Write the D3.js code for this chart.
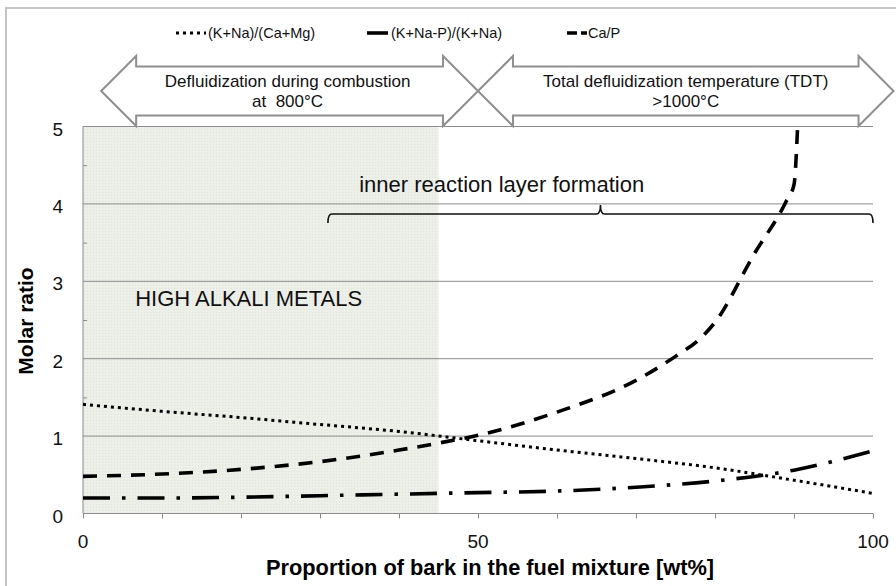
<!DOCTYPE html>
<html>
<head>
<meta charset="utf-8">
<script src="https://cdn.jsdelivr.net/npm/d3@7"></script>
<style>
  body { margin: 0; background: #fff; }
  svg { display: block; font-family: Arial, "Liberation Sans", sans-serif; }
</style>
</head>
<body>
<svg id="chart" width="896" height="586"></svg>
<script>
// Proportion of bark in the fuel mixture [wt%]
const barkShare = [0, 10, 20, 30, 40, 50, 60, 70, 80, 90, 100];
// (K+Na)/(Ca+Mg)
const alkaliToEarth = [1.41, 1.32, 1.24, 1.15, 1.06, 0.94, 0.82, 0.71, 0.59, 0.43, 0.26];
// (K+Na-P)/(K+Na)
const alkaliMinusP = [0.20, 0.20, 0.21, 0.23, 0.25, 0.27, 0.29, 0.34, 0.42, 0.56, 0.81];
// Ca/P (rises steeply past 90 wt%)
const caPShare = [0, 10, 20, 30, 40, 45, 50, 60, 70, 75, 78, 80, 85, 89, 90, 90.5];
const caP = [0.48, 0.51, 0.57, 0.67, 0.82, 0.91, 1.01, 1.31, 1.72, 2.03, 2.25, 2.47, 3.36, 4.03, 4.25, 5.10];

const xTicks = [0, 50, 100];
const xMinorTicks = d3.range(0, 101, 10);
const yTicks = [0, 1, 2, 3, 4, 5];
const yMinorTicks = [0.5, 1.5, 2.5, 3.5, 4.5];

const legendLabels = ["(K+Na)/(Ca+Mg)", "(K+Na-P)/(K+Na)", "Ca/P"];
const highAlkaliRange = [0, 45];
const braceRange = [31, 100];
const arrowSpans = [[2.3, 50], [50, 102.6]];
const arrowLabels = [
  ["Defluidization during combustion", "at  800\u00B0C"],
  ["Total defluidization temperature (TDT)", ">1000\u00B0C"]
];

const svg = d3.select("#chart");
const plot = { left: 83, right: 873, top: 126.5, bottom: 513.5 };

const x = d3.scaleLinear().domain([0, 100]).range([plot.left, plot.right]);
const y = d3.scaleLinear().domain([0, 5]).range([plot.bottom, plot.top]);

const defs = svg.append("defs");
const grain = defs.append("pattern").attr("id", "grain")
  .attr("width", 3).attr("height", 3).attr("patternUnits", "userSpaceOnUse");
grain.append("rect").attr("width", 3).attr("height", 3).attr("fill", "#eceee8");
grain.append("rect").attr("width", 1).attr("height", 1).attr("fill", "#e1e4dc");
grain.append("rect").attr("x", 2).attr("y", 1).attr("width", 1).attr("height", 1).attr("fill", "#f1f2ee");

defs.append("clipPath").attr("id", "plotClip")
  .append("rect")
  .attr("x", plot.left - 3).attr("y", plot.top)
  .attr("width", plot.right - plot.left + 6).attr("height", plot.bottom - plot.top);

// chart frame
svg.append("rect").attr("x", 6).attr("y", 8).attr("width", 900).attr("height", 600)
  .attr("fill", "none").attr("stroke", "#c4c4c4").attr("stroke-width", 2);

// high alkali region
svg.append("rect")
  .attr("x", x(highAlkaliRange[0])).attr("y", y(5))
  .attr("width", x(highAlkaliRange[1]) - x(highAlkaliRange[0]))
  .attr("height", y(0) - y(5))
  .attr("fill", "url(#grain)");

// gridlines
svg.append("g").selectAll("line").data(yTicks.filter(d => d > 0)).join("line")
  .attr("x1", x(0)).attr("x2", x(100))
  .attr("y1", d => y(d)).attr("y2", d => y(d))
  .attr("stroke", "#8c8c8c").attr("stroke-width", 1);

// x axis
const xAxis = svg.append("g").attr("transform", `translate(0,${y(0)})`)
  .call(d3.axisBottom(x).tickValues(xMinorTicks).tickSize(5).tickFormat(""));
xAxis.select(".domain").attr("stroke", "#8c8c8c").attr("d", `M${x(0)},0H${x(100)}`);
xAxis.selectAll(".tick line").attr("stroke", "#8c8c8c");

svg.append("g").selectAll("text").data(xTicks).join("text")
  .attr("x", d => x(d)).attr("y", 548)
  .attr("text-anchor", "middle").attr("font-size", 19).attr("fill", "#111")
  .text(d => d);

// y axis
const yAxis = svg.append("g").attr("transform", `translate(${x(0)},0)`)
  .call(d3.axisRight(y).tickValues(yMinorTicks).tickSize(4).tickFormat(""));
yAxis.select(".domain").attr("stroke", "#8c8c8c").attr("d", `M0,${y(0)}V${y(5)}`);
yAxis.selectAll(".tick line").attr("stroke", "#8c8c8c");

svg.append("g").selectAll("text").data(yTicks).join("text")
  .attr("x", 63).attr("y", d => y(d) + 9)
  .attr("text-anchor", "end").attr("font-size", 19).attr("fill", "#111")
  .text(d => d);

// axis titles
svg.append("text")
  .attr("transform", `translate(33,321) rotate(-90)`)
  .attr("text-anchor", "middle").attr("font-size", 21).attr("font-weight", "bold")
  .text("Molar ratio");
svg.append("text")
  .attr("x", 490).attr("y", 575)
  .attr("text-anchor", "middle").attr("font-size", 21.8).attr("font-weight", "bold")
  .text("Proportion of bark in the fuel mixture [wt%]");

// annotations inside the plot
svg.append("text")
  .attr("x", x(6.6)).attr("y", y(2.68))
  .attr("font-size", 22).attr("fill", "#111")
  .text("HIGH ALKALI METALS");
svg.append("text")
  .attr("x", x(53)).attr("y", y(4.15))
  .attr("text-anchor", "middle").attr("font-size", 22).attr("fill", "#111")
  .text("inner reaction layer formation");

// curly brace spanning the reaction-layer range
{
  const bx0 = x(braceRange[0]), bx1 = x(braceRange[1]);
  const bm = (bx0 + bx1) / 2, by = y(3.87), r = 4;
  const p = d3.path();
  p.moveTo(bx0, by + 9);
  p.quadraticCurveTo(bx0, by, bx0 + r, by);
  p.lineTo(bm - r, by);
  p.quadraticCurveTo(bm, by, bm, by - 9);
  p.quadraticCurveTo(bm, by, bm + r, by);
  p.lineTo(bx1 - r, by);
  p.quadraticCurveTo(bx1, by, bx1, by + 9);
  svg.append("path").attr("d", p.toString())
    .attr("fill", "none").attr("stroke", "#111").attr("stroke-width", 1.6);
}

// series
const line = d3.line().x(d => x(d[0])).y(d => y(d[1])).curve(d3.curveMonotoneX);
const series = [
  { pts: d3.zip(barkShare, alkaliToEarth), dash: "3,4", width: 3, cap: "butt" },
  { pts: d3.zip(barkShare, alkaliMinusP), dash: "27,12,3.5,12", width: 3.6, cap: "butt" },
  { pts: d3.zip(caPShare, caP), dash: "14,10", width: 3.6, cap: "butt" }
];
const seriesG = svg.append("g").attr("clip-path", "url(#plotClip)");
seriesG.selectAll("path").data(series).join("path")
  .attr("d", d => line(d.pts))
  .attr("fill", "none").attr("stroke", "#000")
  .attr("stroke-width", d => d.width)
  .attr("stroke-dasharray", d => d.dash)
  .attr("stroke-linecap", d => d.cap);

// double-headed range arrows above the plot
const arrowMid = 91, headHalf = 35, shaftHalf = 24.5, headLen = 35;
arrowSpans.forEach((span, i) => {
  const a = x(span[0]), b = x(span[1]);
  const pts = [
    [a, arrowMid], [a + headLen, arrowMid - headHalf], [a + headLen, arrowMid - shaftHalf],
    [b - headLen, arrowMid - shaftHalf], [b - headLen, arrowMid - headHalf], [b, arrowMid],
    [b - headLen, arrowMid + headHalf], [b - headLen, arrowMid + shaftHalf],
    [a + headLen, arrowMid + shaftHalf], [a + headLen, arrowMid + headHalf]
  ];
  svg.append("polygon")
    .attr("points", pts.map(p => p.join(",")).join(" "))
    .attr("fill", "#fff").attr("stroke", "#8f8f8f").attr("stroke-width", 2)
    .attr("stroke-linejoin", "miter");
  const cx = (a + b) / 2 - (i === 0 ? 2 : 0);
  arrowLabels[i].forEach((t, j) => {
    svg.append("text")
      .attr("x", cx).attr("y", 87 + j * 20)
      .attr("text-anchor", "middle").attr("font-size", 17).attr("fill", "#111")
      .style("white-space", "pre")
      .text(t);
  });
});

// legend
const legendY = 33;
const legendItems = [
  { x0: 176, x1: 206, dash: "3,4", width: 3, tx: 208 },
  { x0: 367, x1: 388, dash: null, width: 3.6, tx: 391 },
  { x0: 567, x1: 587, dash: "10,4", width: 3.6, tx: 588 }
];
const lg = svg.append("g");
legendItems.forEach((it, i) => {
  lg.append("line")
    .attr("x1", it.x0).attr("x2", it.x1).attr("y1", legendY).attr("y2", legendY)
    .attr("stroke", "#000").attr("stroke-width", it.width)
    .attr("stroke-dasharray", it.dash);
  lg.append("text")
    .attr("x", it.tx).attr("y", legendY + 5)
    .attr("font-size", 14.5).attr("fill", "#111")
    .text(legendLabels[i]);
});
</script>
</body>
</html>
